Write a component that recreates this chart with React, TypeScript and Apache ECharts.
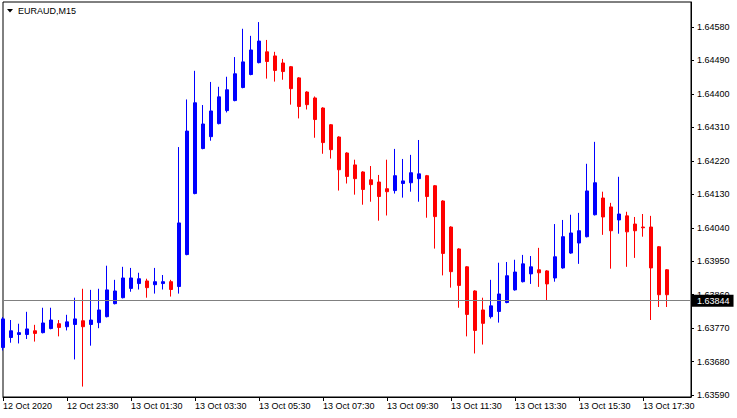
import React, { useEffect, useRef } from "react";
import * as echarts from "echarts";

const FONT = "Liberation Sans, Arial, sans-serif";

const symbolTitle = "EURAUD,M15";
const firstLabel = "12 Oct 2020";
const lastPrice = 1.63844;

// 15 minute bars, three empty slots at the end
const times = [
    "12 Oct 21:30", "12 Oct 21:45", "12 Oct 22:00", "12 Oct 22:15", "12 Oct 22:30", "12 Oct 22:45",
    "12 Oct 23:00", "12 Oct 23:15", "12 Oct 23:30", "12 Oct 23:45", "13 Oct 00:00", "13 Oct 00:15",
    "13 Oct 00:30", "13 Oct 00:45", "13 Oct 01:00", "13 Oct 01:15", "13 Oct 01:30", "13 Oct 01:45",
    "13 Oct 02:00", "13 Oct 02:15", "13 Oct 02:30", "13 Oct 02:45", "13 Oct 03:00", "13 Oct 03:15",
    "13 Oct 03:30", "13 Oct 03:45", "13 Oct 04:00", "13 Oct 04:15", "13 Oct 04:30", "13 Oct 04:45",
    "13 Oct 05:00", "13 Oct 05:15", "13 Oct 05:30", "13 Oct 05:45", "13 Oct 06:00", "13 Oct 06:15",
    "13 Oct 06:30", "13 Oct 06:45", "13 Oct 07:00", "13 Oct 07:15", "13 Oct 07:30", "13 Oct 07:45",
    "13 Oct 08:00", "13 Oct 08:15", "13 Oct 08:30", "13 Oct 08:45", "13 Oct 09:00", "13 Oct 09:15",
    "13 Oct 09:30", "13 Oct 09:45", "13 Oct 10:00", "13 Oct 10:15", "13 Oct 10:30", "13 Oct 10:45",
    "13 Oct 11:00", "13 Oct 11:15", "13 Oct 11:30", "13 Oct 11:45", "13 Oct 12:00", "13 Oct 12:15",
    "13 Oct 12:30", "13 Oct 12:45", "13 Oct 13:00", "13 Oct 13:15", "13 Oct 13:30", "13 Oct 13:45",
    "13 Oct 14:00", "13 Oct 14:15", "13 Oct 14:30", "13 Oct 14:45", "13 Oct 15:00", "13 Oct 15:15",
    "13 Oct 15:30", "13 Oct 15:45", "13 Oct 16:00", "13 Oct 16:15", "13 Oct 16:30", "13 Oct 16:45",
    "13 Oct 17:00", "13 Oct 17:15", "13 Oct 17:30", "13 Oct 17:45", "13 Oct 18:00", "13 Oct 18:15",
    "13 Oct 18:30", "13 Oct 18:45", "13 Oct 19:00",
];

const opens = [
    1.63718, 1.63745, 1.63753, 1.63753, 1.63763, 1.63758, 1.63769, 1.63782, 1.63774, 1.6378,
    1.6379, 1.6378, 1.63785, 1.63801, 1.63836, 1.63852, 1.63877, 1.6389, 1.63897, 1.63887,
    1.6389, 1.63895, 1.63882, 1.63968, 1.64132, 1.64253, 1.64285, 1.6432, 1.64355, 1.64382,
    1.64417, 1.64452, 1.64484, 1.64513, 1.64502, 1.64483, 1.64473, 1.64443, 1.64405, 1.64389,
    1.64362, 1.64317, 1.64284, 1.64241, 1.64209, 1.6419, 1.64169, 1.64163, 1.64145, 1.6414,
    1.64159, 1.64161, 1.64172, 1.6418, 1.64153, 1.64112, 1.64042, 1.63983, 1.63935, 1.6387,
    1.63819, 1.63801, 1.63815, 1.63839, 1.63873, 1.63895, 1.63916, 1.63927, 1.63924, 1.63905,
    1.63932, 1.63972, 1.63999, 1.64016, 1.64075, 1.6412, 1.64096, 1.64061, 1.64072, 1.6405,
    1.64042, 1.64042, 1.63989, 1.63927,
];

const closes = [
    1.63795, 1.63763, 1.63758, 1.63768, 1.63756, 1.63784, 1.63792, 1.63772, 1.63787, 1.63795,
    1.63774, 1.63792, 1.63819, 1.63873, 1.6387, 1.63905, 1.63905, 1.63903, 1.63879, 1.63895,
    1.63895, 1.63874, 1.64053, 1.643, 1.64376, 1.64319, 1.64354, 1.64392, 1.64411, 1.64454,
    1.64486, 1.64518, 1.64542, 1.64487, 1.64463, 1.6446, 1.64414, 1.64366, 1.64371, 1.64331,
    1.64269, 1.6425, 1.64196, 1.64178, 1.64172, 1.64143, 1.64156, 1.64124, 1.64137, 1.6418,
    1.64166, 1.64188, 1.64185, 1.64124, 1.6407, 1.63971, 1.63922, 1.63885, 1.63807, 1.63764,
    1.63783, 1.6383, 1.63862, 1.63911, 1.63921, 1.63943, 1.63935, 1.63919, 1.63889, 1.63962,
    1.64016, 1.64026, 1.64032, 1.64139, 1.64161, 1.64069, 1.64032, 1.64077, 1.64029, 1.64032,
    1.6404, 1.63932, 1.6386, 1.6386,
];

const highs = [
    1.638, 1.63792, 1.63782, 1.63814, 1.63779, 1.63825, 1.63825, 1.63792, 1.63806, 1.63852,
    1.63876, 1.63873, 1.63876, 1.63938, 1.639, 1.63935, 1.63932, 1.63919, 1.63903, 1.63932,
    1.63913, 1.639, 1.64257, 1.64385, 1.64462, 1.6437, 1.64432, 1.64419, 1.64446, 1.64499,
    1.64575, 1.64556, 1.64593, 1.64545, 1.64513, 1.64494, 1.64475, 1.64445, 1.64407, 1.64393,
    1.64364, 1.64319, 1.64286, 1.64243, 1.64223, 1.64192, 1.64206, 1.64182, 1.64223, 1.64252,
    1.64225, 1.64236, 1.64276, 1.64182, 1.64155, 1.64114, 1.64044, 1.63985, 1.63937, 1.63872,
    1.63852, 1.639, 1.63946, 1.63948, 1.63954, 1.63967, 1.63964, 1.63986, 1.63926, 1.6405,
    1.64061, 1.64075, 1.6408, 1.64212, 1.64271, 1.64137, 1.64107, 1.64177, 1.64083, 1.64069,
    1.64077, 1.64072, 1.63991, 1.63929,
];

const lows = [
    1.6371, 1.63731, 1.63729, 1.63741, 1.63734, 1.63756, 1.63767, 1.63748, 1.63764, 1.63686,
    1.63613, 1.63723, 1.6377, 1.63799, 1.63834, 1.6385, 1.63868, 1.63874, 1.63852, 1.63863,
    1.63874, 1.63855, 1.63863, 1.63966, 1.6413, 1.64251, 1.64274, 1.64318, 1.6435, 1.6438,
    1.64415, 1.6445, 1.64482, 1.64441, 1.64433, 1.64438, 1.64371, 1.64334, 1.64358, 1.64282,
    1.64239, 1.64226, 1.6414, 1.64159, 1.64129, 1.64102, 1.6411, 1.64059, 1.64073, 1.64132,
    1.64121, 1.64137, 1.6411, 1.64067, 1.63984, 1.63912, 1.63879, 1.63825, 1.63748, 1.63702,
    1.63726, 1.63796, 1.63785, 1.63837, 1.63871, 1.63893, 1.63889, 1.63881, 1.63844, 1.63895,
    1.6393, 1.6397, 1.63943, 1.64014, 1.64073, 1.64021, 1.6393, 1.64024, 1.63935, 1.63959,
    1.64016, 1.63792, 1.63827, 1.63827,
];

const priceTicks = [
    1.6359, 1.6368, 1.6377, 1.6386, 1.6395, 1.6404, 1.6413, 1.6422, 1.6431, 1.644, 1.6449, 1.6458,
];

const App: React.FC = () => {
    const ref = useRef<HTMLDivElement>(null);

    useEffect(() => {
        if (!ref.current) return;
        const chart = echarts.init(ref.current, undefined, { renderer: "svg" });

        // echarts candlestick order: [open, close, low, high]
        const candles = opens.map((o, i) => [o, closes[i], lows[i], highs[i]]);
        const everyTwoHours = (i: number) => i % 8 === 0;

        chart.setOption({
            animation: false,
            backgroundColor: "#ffffff",
            textStyle: { fontFamily: FONT },
            grid: {
                left: 2,
                top: 2,
                right: 46,
                bottom: 21,
                show: true,
                borderColor: "#000",
                borderWidth: 1,
                backgroundColor: "#fff",
            },
            xAxis: {
                type: "category",
                data: times,
                boundaryGap: false,
                axisLine: { lineStyle: { color: "#000", width: 1 } },
                axisTick: { interval: everyTwoHours, length: 4, lineStyle: { color: "#000" } },
                axisLabel: {
                    interval: everyTwoHours,
                    formatter: (v: string) => (v === times[0] ? firstLabel : v),
                    align: "left",
                    margin: 4,
                    fontSize: 9,
                    fontFamily: FONT,
                    color: "#000",
                },
                splitLine: { show: false },
            },
            yAxis: {
                type: "value",
                position: "right",
                min: 1.63585,
                max: 1.64647,
                scale: true,
                splitLine: { show: false },
                axisLine: { show: true, lineStyle: { color: "#000" } },
                axisTick: { show: true, length: 3, customValues: priceTicks, lineStyle: { color: "#000" } },
                axisLabel: {
                    customValues: priceTicks,
                    formatter: (v: number) => v.toFixed(5),
                    margin: 6,
                    fontSize: 9,
                    fontFamily: FONT,
                    color: "#000",
                },
            },
            graphic: [
                {
                    type: "polygon",
                    shape: { points: [[7, 9], [13, 9], [10, 12.5]] },
                    style: { fill: "#000" },
                },
                {
                    type: "text",
                    x: 18,
                    y: 11,
                    style: {
                        text: symbolTitle,
                        fill: "#000",
                        fontSize: 9,
                        fontFamily: FONT,
                        verticalAlign: "middle",
                    },
                },
            ],
            series: [
                {
                    type: "candlestick",
                    data: candles,
                    barWidth: 4,
                    z: 3,
                    itemStyle: {
                        color: "#0000ff",
                        color0: "#ff0000",
                        borderColor: "#0000ff",
                        borderColor0: "#ff0000",
                        borderWidth: 1,
                    },
                },
                {
                    // bid line carried by an empty line series
                    type: "line",
                    data: [],
                    z: 2,
                    markLine: {
                        silent: true,
                        precision: 5,
                        symbol: ["none", "none"],
                        lineStyle: { color: "#808080", width: 1, type: "solid" },
                        label: {
                            show: true,
                            position: "end",
                            distance: 1,
                            formatter: lastPrice.toFixed(5),
                            backgroundColor: "#000",
                            color: "#fff",
                            fontSize: 9,
                            fontFamily: FONT,
                            padding: [2, 4, 1, 5],
                        },
                        data: [{ yAxis: lastPrice }],
                    },
                },
            ],
        });

        return () => {
            chart.dispose();
        };
    }, []);

    return (
        <div
            ref={ref}
            style={{ position: "absolute", left: 0, top: 0, width: 737, height: 418 }}
        />
    );
};

export default App;
